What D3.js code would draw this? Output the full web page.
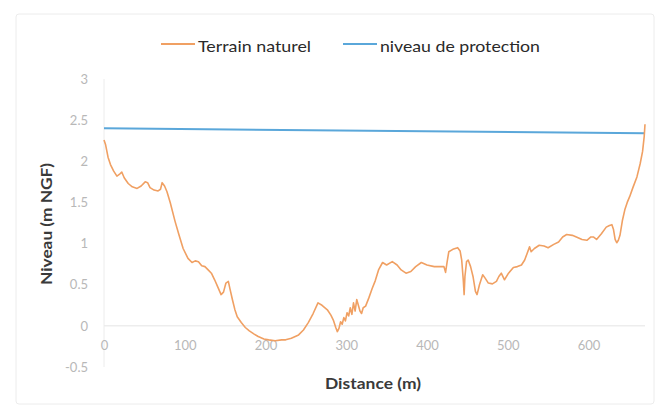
<!DOCTYPE html>
<html>
<head>
<meta charset="utf-8">
<script src="https://cdn.jsdelivr.net/npm/d3@7"></script>
<style>
  body { margin: 0; background: #fff; }
  text { font-family: Lato, "Open Sans", sans-serif; }
</style>
</head>
<body>
<div id="chart"></div>
<script>
// terrain profile: distance (m) and level (m NGF)
var distance = [0, 2, 5, 8, 12, 16, 19, 22, 25, 30, 35, 41, 46, 51, 54, 57, 62, 67, 70, 72, 75, 78,
    82, 88, 93, 98, 104, 109, 113, 117, 121, 125, 129, 133, 137, 141, 145, 148, 151, 154, 156, 159,
    162, 165, 170, 175, 180, 186, 191, 198, 204, 212, 220, 225, 232, 241, 247, 253, 259, 265, 270,
    277, 281, 284, 287, 289, 291, 293, 295, 297, 299, 301, 303, 305, 307, 309, 311, 313, 315, 317,
    319, 321, 324, 328, 332, 336, 340, 345, 350, 357, 363, 368, 374, 380, 386, 393, 400, 409, 415,
    421, 423, 425, 427, 432, 438, 441, 443, 445, 446, 447, 449, 451, 454, 457, 460, 462, 465, 469,
    472, 476, 481, 486, 489, 492, 496, 501, 507, 512, 517, 521, 524, 527, 529, 533, 539, 545, 550,
    557, 563, 568, 573, 580, 585, 592, 598, 603, 606, 610, 616, 622, 626, 629, 631, 633, 635, 637,
    639, 642, 645, 648, 651, 655, 660, 664, 667, 669, 670];
var terrain = [2.26, 2.20, 2.05, 1.96, 1.88, 1.82, 1.84, 1.87, 1.80, 1.73, 1.69, 1.67, 1.70, 1.75,
    1.74, 1.68, 1.65, 1.64, 1.66, 1.74, 1.70, 1.63, 1.50, 1.27, 1.10, 0.94, 0.82, 0.77, 0.79, 0.78,
    0.73, 0.72, 0.68, 0.64, 0.56, 0.47, 0.38, 0.41, 0.52, 0.54, 0.45, 0.32, 0.20, 0.11, 0.04, -0.02,
    -0.06, -0.10, -0.13, -0.16, -0.17, -0.18, -0.17, -0.17, -0.15, -0.11, -0.05, 0.04, 0.15, 0.28,
    0.25, 0.19, 0.13, 0.07, -0.02, -0.07, -0.03, 0.05, 0.02, 0.10, 0.06, 0.16, 0.12, 0.22, 0.14,
    0.28, 0.18, 0.32, 0.25, 0.18, 0.15, 0.22, 0.24, 0.34, 0.45, 0.55, 0.68, 0.77, 0.74, 0.78, 0.74,
    0.68, 0.64, 0.66, 0.72, 0.77, 0.74, 0.72, 0.72, 0.72, 0.65, 0.78, 0.90, 0.93, 0.95, 0.91, 0.80,
    0.55, 0.38, 0.60, 0.78, 0.80, 0.72, 0.60, 0.42, 0.38, 0.50, 0.62, 0.58, 0.52, 0.51, 0.54, 0.60,
    0.64, 0.56, 0.64, 0.71, 0.72, 0.74, 0.80, 0.88, 0.96, 0.90, 0.94, 0.98, 0.97, 0.95, 0.99, 1.02,
    1.08, 1.11, 1.10, 1.08, 1.05, 1.04, 1.08, 1.08, 1.05, 1.12, 1.20, 1.22, 1.23, 1.17, 1.05, 1.01,
    1.04, 1.10, 1.28, 1.41, 1.50, 1.57, 1.68, 1.81, 1.97, 2.12, 2.30, 2.45];

// protection level (two end points)
var protectionDistance = [0, 670];
var protection = [2.40, 2.34];

var xTicks = [0, 100, 200, 300, 400, 500, 600];
var yTicks = [-0.5, 0, 0.5, 1, 1.5, 2, 2.5, 3];
var seriesNames = ["Terrain naturel", "niveau de protection"];
var seriesColors = ["#f0a063", "#5aa7da"];

var width = 661, height = 416;
var plot = {left: 104, right: 645, top: 79, bottom: 367};

var x = d3.scaleLinear().domain([0, 670]).range([plot.left, plot.right]);
var y = d3.scaleLinear().domain([-0.5, 3]).range([plot.bottom, plot.top]);

var svg = d3.select("#chart").append("svg")
    .attr("width", width).attr("height", height);

// chart frame
svg.append("rect").attr("x", 16).attr("y", 14).attr("width", 638).attr("height", 390)
    .attr("fill", "none").attr("stroke", "#ececec").attr("rx", 3);

// zero line and left axis line
svg.append("line").attr("x1", x(0)).attr("x2", x(670)).attr("y1", y(0)).attr("y2", y(0))
    .attr("stroke", "#e4e4e4").attr("stroke-width", 1);
svg.append("line").attr("x1", x(0)).attr("x2", x(0)).attr("y1", y(3)).attr("y2", y(-0.5))
    .attr("stroke", "#ececec").attr("stroke-width", 1);

// y axis labels
var yAxis = d3.axisLeft(y).tickValues(yTicks).tickSize(0).tickPadding(16)
    .tickFormat(function(d) { return String(d); });
var gy = svg.append("g").attr("transform", "translate(" + plot.left + ",0)").call(yAxis);
gy.select(".domain").remove();
gy.selectAll("text").attr("fill", "#b8b8b8").style("font-size", "13px")
    .style("font-family", "Lato, sans-serif");

// x axis labels, sitting under the zero line
var xAxis = d3.axisBottom(x).tickValues(xTicks).tickSize(0).tickPadding(15);
var gx = svg.append("g").attr("transform", "translate(0," + y(0) + ")").call(xAxis);
gx.select(".domain").remove();
gx.selectAll("text").attr("fill", "#b8b8b8").style("font-size", "13px")
    .style("font-family", "Lato, sans-serif");

// series
var terrainData = distance.map(function(d, i) { return [d, terrain[i]]; });
var protectionData = protectionDistance.map(function(d, i) { return [d, protection[i]]; });
var line = d3.line().x(function(d) { return x(d[0]); }).y(function(d) { return y(d[1]); });

svg.append("path").datum(protectionData).attr("d", line)
    .attr("fill", "none").attr("stroke", seriesColors[1]).attr("stroke-width", 2);
svg.append("path").datum(terrainData).attr("d", line)
    .attr("fill", "none").attr("stroke", seriesColors[0]).attr("stroke-width", 1.6)
    .attr("stroke-linejoin", "round");

// axis titles
svg.append("text").text("Distance (m)").attr("x", 373).attr("y", 389)
    .attr("text-anchor", "middle").attr("fill", "#3a3a3a")
    .attr("textLength", 96).attr("lengthAdjust", "spacingAndGlyphs")
    .style("font-size", "15px").style("font-weight", "bold");
svg.append("text").text("Niveau (m NGF)")
    .attr("transform", "translate(52,224) rotate(-90)")
    .attr("text-anchor", "middle").attr("fill", "#3a3a3a")
    .attr("textLength", 122).attr("lengthAdjust", "spacingAndGlyphs")
    .style("font-size", "15px").style("font-weight", "bold");

// legend
var legendX = [161, 343];
var legendTextLength = [113, 160];
var legend = svg.append("g");
seriesNames.forEach(function(name, i) {
    legend.append("line").attr("x1", legendX[i]).attr("x2", legendX[i] + 34)
        .attr("y1", 44).attr("y2", 44)
        .attr("stroke", seriesColors[i]).attr("stroke-width", 2);
    legend.append("text").text(name).attr("x", legendX[i] + 37).attr("y", 45)
        .attr("dominant-baseline", "central").attr("fill", "#2a2a2a")
        .attr("textLength", legendTextLength[i]).attr("lengthAdjust", "spacingAndGlyphs")
        .style("font-size", "16px");
});
</script>
</body>
</html>
